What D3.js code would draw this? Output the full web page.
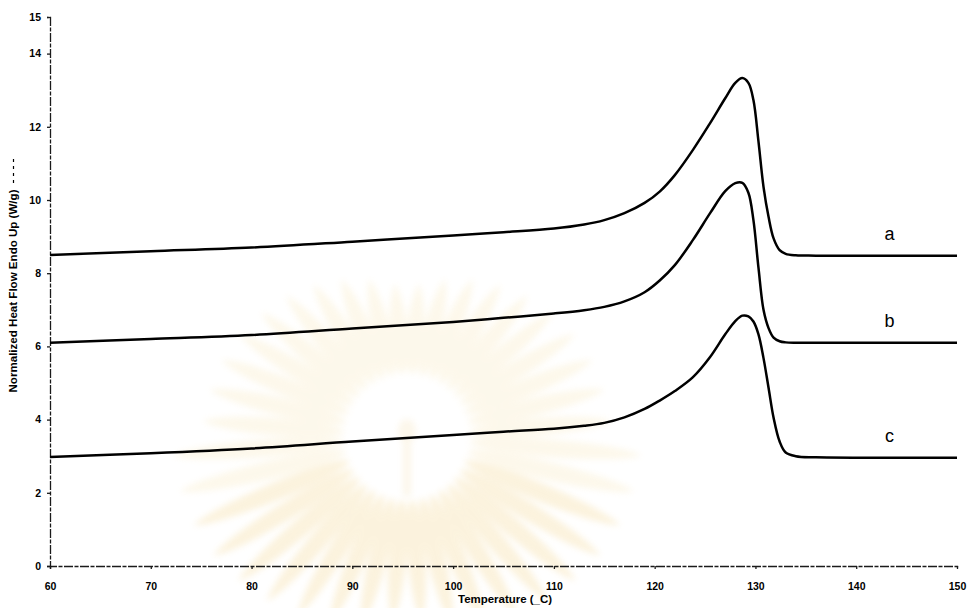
<!DOCTYPE html>
<html>
<head>
<meta charset="utf-8">
<script src="https://cdn.jsdelivr.net/npm/d3@7"></script>
<style>
  html, body { margin: 0; padding: 0; background: #fff; }
  svg { display: block; }
  text { font-family: "Liberation Sans", Arial, sans-serif; }
</style>
</head>
<body>
<svg id="chart" width="975" height="608"></svg>
<script>
// DSC thermograms: normalized heat flow (endo up) versus temperature
const temps = [60, 70, 80, 90, 100, 105, 110, 113, 115, 117, 119, 120.5, 122, 123.8, 125.5,
               127, 128, 128.7, 129.3, 129.8, 130.3, 130.8, 131.3, 131.8, 132.4, 133, 134, 136, 150];
const heatA = [8.50, 8.60, 8.70, 8.86, 9.03, 9.12, 9.22, 9.33, 9.45, 9.64, 9.92, 10.23, 10.68, 11.37, 12.10,
               12.78, 13.20, 13.33, 13.20, 12.73, 11.60, 10.36, 9.54, 8.95, 8.63, 8.53, 8.49, 8.48, 8.48];
const heatB = [6.10, 6.20, 6.31, 6.49, 6.67, 6.78, 6.90, 6.99, 7.08, 7.23, 7.48, 7.80, 8.22, 8.91, 9.64,
               10.24, 10.46, 10.47, 10.20, 9.45, 8.15, 7.00, 6.50, 6.24, 6.14, 6.11, 6.10, 6.10, 6.10];
const heatC = [2.98, 3.08, 3.21, 3.40, 3.58, 3.67, 3.75, 3.83, 3.91, 4.06, 4.29, 4.52, 4.78, 5.16, 5.71,
               6.33, 6.69, 6.84, 6.82, 6.68, 6.33, 5.68, 4.87, 4.05, 3.40, 3.10, 3.00, 2.97, 2.96];
const seriesNames = ["a", "b", "c"];
const xTicks = [60, 70, 80, 90, 100, 110, 120, 130, 140, 150];
const yTicks = [0, 2, 4, 6, 8, 10, 12, 14, 15];
const xTitle = "Temperature (_C)";
const yTitle = "Normalized Heat Flow Endo Up (W/g)";

const series = [heatA, heatB, heatC].map((vals, i) => ({
  name: seriesNames[i],
  points: temps.map((t, j) => ({ t, v: vals[j] }))
}));

const svg = d3.select("#chart");
const x = d3.scaleLinear().domain([60, 150]).range([50, 957]);
const y = d3.scaleLinear().domain([0, 15]).range([566, 17]);

// faint emblem in the background: a ring of soft petals
const defs = svg.append("defs");
defs.append("filter").attr("id", "soft")
  .attr("x", "-20%").attr("y", "-20%").attr("width", "140%").attr("height", "140%")
  .append("feGaussianBlur").attr("stdDeviation", 3);
const emblem = svg.append("g").attr("filter", "url(#soft)").attr("opacity", 0.42);
const cx = 407, cy = 437;
const nPetals = 40;
d3.range(nPetals).forEach(k => {
  const a = ((k + 0.5) / nPetals) * 2 * Math.PI;
  const r0 = 62;
  const r1 = 150 + 55 * Math.abs(Math.cos(a)) + (Math.sin(a) > 0 ? 30 : 0);
  const w = 12;
  const p = d3.path();
  p.moveTo(r0, 0);
  p.bezierCurveTo(r0 + 10, -w, r1 - 25, -w, r1, 0);
  p.bezierCurveTo(r1 - 25, w, r0 + 10, w, r0, 0);
  emblem.append("path")
    .attr("d", p.toString())
    .attr("transform", `translate(${cx},${cy}) rotate(${a * 180 / Math.PI})`)
    .attr("fill", Math.sin(a) > 0.3 ? "#f7e2b0" : "#faefd0");
});
emblem.append("ellipse").attr("cx", cx).attr("cy", cy - 6).attr("rx", 9).attr("ry", 12)
  .attr("fill", "#f8ebcf");
emblem.append("rect").attr("x", cx - 4).attr("y", cy + 4).attr("width", 8).attr("height", 55)
  .attr("fill", "#f8ebcf");

// axes
const xAxis = d3.axisBottom(x).tickValues(xTicks).tickSize(3).tickFormat(d3.format("d"));
const yAxis = d3.axisLeft(y).tickValues(yTicks).tickSize(3).tickFormat(d3.format("d"));

const gx = svg.append("g").attr("transform", `translate(0,${y(0)})`).call(xAxis);
const gy = svg.append("g").attr("transform", `translate(${x(60)},0)`).call(yAxis);

[gx, gy].forEach(g => {
  g.select(".domain").attr("stroke", "#1a1a1a").attr("stroke-width", 1.3)
    .attr("stroke-dasharray", "9 1.5 4 1.5");
  g.selectAll(".tick line").attr("stroke", "#1a1a1a").attr("stroke-width", 1.3);
  g.selectAll(".tick text").attr("fill", "#000").attr("font-size", 10.5)
    .attr("font-weight", "bold");
});
gx.selectAll(".tick text").attr("dy", "1.7em");
gy.selectAll(".tick text").attr("x", -9);

// axis titles
svg.append("text")
  .attr("x", 505).attr("y", 603)
  .attr("text-anchor", "middle")
  .attr("font-size", 10).attr("font-weight", "bold")
  .attr("textLength", 94).attr("lengthAdjust", "spacingAndGlyphs")
  .text(xTitle);

svg.append("text")
  .attr("transform", "translate(17,291) rotate(-90)")
  .attr("text-anchor", "middle")
  .attr("font-size", 10).attr("font-weight", "bold")
  .attr("textLength", 203).attr("lengthAdjust", "spacingAndGlyphs")
  .text(yTitle);
svg.append("line")
  .attr("x1", 13.5).attr("x2", 13.5).attr("y1", 183).attr("y2", 158)
  .attr("stroke", "#000").attr("stroke-width", 1.2)
  .attr("stroke-dasharray", "3 4");

// curves
const line = d3.line()
  .x(d => x(d.t))
  .y(d => y(d.v))
  .curve(d3.curveCatmullRom.alpha(0.5));

svg.append("g").selectAll("path")
  .data(series)
  .join("path")
  .attr("d", d => line(d.points))
  .attr("fill", "none")
  .attr("stroke", "#000")
  .attr("stroke-width", 2.5)
  .attr("stroke-linejoin", "round");

// curve labels over the right-hand baselines
svg.append("g").selectAll("text")
  .data(series)
  .join("text")
  .attr("x", x(143.3))
  .attr("y", d => y(d.points[d.points.length - 1].v) - 16)
  .attr("text-anchor", "middle")
  .attr("font-size", 18)
  .attr("fill", "#000")
  .text(d => d.name);
</script>
</body>
</html>
